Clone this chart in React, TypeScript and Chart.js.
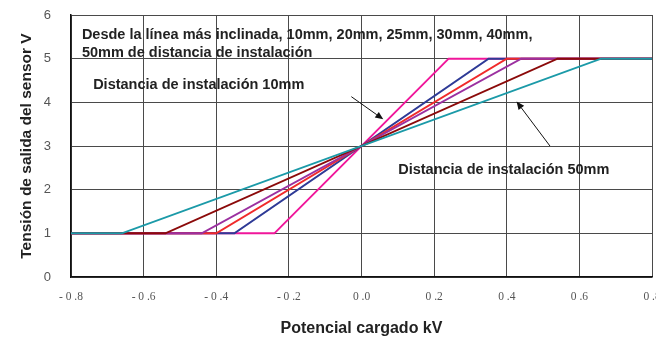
import { useEffect, useRef } from 'react';
import { Chart, registerables } from 'chart.js';

Chart.register(...registerables);

// ---- data ----
const seriesLabels = ['10mm', '20mm', '25mm', '30mm', '40mm', '50mm'];
const lowKnee = [-0.24, -0.35, -0.40, -0.44, -0.54, -0.66]; // kV where output leaves 1 V
const highKnee = [0.24, 0.35, 0.40, 0.44, 0.54, 0.66]; // kV where output reaches 5 V
const xRange = [-0.8, 0.8];
const vLow = 1;
const vHigh = 5;
const xTickLabels = ['- 0 .8', '- 0 .6', '- 0 .4', '- 0 .2', '0 .0', '0 .2', '0 .4', '0 .6', '0 .8'];
const yTickLabels = ['0', '1', '2', '3', '4', '5', '6'];

const noteTexts = [
  'Desde la línea más inclinada, 10mm, 20mm, 25mm, 30mm, 40mm,',
  '50mm de distancia de instalación',
  'Distancia de instalación 10mm',
  'Distancia de instalación 50mm',
];
const noteX = [-0.77, -0.77, -0.739, 0.101];
const noteY = [5.54, 5.13, 4.40, 2.45];

const arrowFromX = [-0.028, 0.519];
const arrowFromY = [4.13, 3.0];
const arrowToX = [0.06, 0.427];
const arrowToY = [3.61, 4.02];

// ---- styles ----
const seriesColors = ['#F0169A', '#2E3A96', '#F02A2A', '#9B30A0', '#8B0A0A', '#1B9AA8'];

const notesPlugin = {
  id: 'notes',
  afterDatasetsDraw(chart: any) {
    const { ctx, scales } = chart;
    const x = scales.x;
    const y = scales.y;
    ctx.save();
    ctx.font = 'bold 14.5px "Liberation Sans", Arial, sans-serif';
    ctx.fillStyle = '#222';
    ctx.textBaseline = 'middle';
    ctx.textAlign = 'left';
    noteTexts.forEach((t, i) => {
      ctx.fillText(t, x.getPixelForValue(noteX[i]), y.getPixelForValue(noteY[i]));
    });
    ctx.strokeStyle = '#111';
    ctx.fillStyle = '#111';
    ctx.lineWidth = 1;
    arrowFromX.forEach((_, i) => {
      const x1 = x.getPixelForValue(arrowFromX[i]);
      const y1 = y.getPixelForValue(arrowFromY[i]);
      const x2 = x.getPixelForValue(arrowToX[i]);
      const y2 = y.getPixelForValue(arrowToY[i]);
      const ang = Math.atan2(y2 - y1, x2 - x1);
      const hl = 8;
      const hw = 3.5;
      const bx = x2 - hl * Math.cos(ang);
      const by = y2 - hl * Math.sin(ang);
      ctx.beginPath();
      ctx.moveTo(x1, y1);
      ctx.lineTo(bx, by);
      ctx.stroke();
      ctx.beginPath();
      ctx.moveTo(x2, y2);
      ctx.lineTo(bx + hw * Math.sin(ang), by - hw * Math.cos(ang));
      ctx.lineTo(bx - hw * Math.sin(ang), by + hw * Math.cos(ang));
      ctx.closePath();
      ctx.fill();
    });
    ctx.restore();
  },
};

export default function App() {
  const ref = useRef<HTMLCanvasElement | null>(null);

  useEffect(() => {
    document.body.style.margin = '0';
    const canvas = ref.current;
    if (!canvas) return;
    const datasets = seriesLabels.map((label, i) => ({
      label,
      data: [
        { x: xRange[0], y: vLow },
        { x: lowKnee[i], y: vLow },
        { x: highKnee[i], y: vHigh },
        { x: xRange[1], y: vHigh },
      ],
      borderColor: seriesColors[i],
      backgroundColor: seriesColors[i],
      borderWidth: 2,
      pointRadius: 0,
      tension: 0,
      fill: false,
      order: seriesLabels.length - i,
    }));

    const chart = new Chart(canvas, {
      type: 'line',
      data: { datasets },
      plugins: [notesPlugin],
      options: {
        responsive: false,
        animation: false,
        events: [],
        layout: { padding: { top: 15, right: 4, bottom: 0, left: 0 } },
        plugins: { legend: { display: false }, tooltip: { enabled: false } },
        scales: {
          x: {
            type: 'linear',
            min: xRange[0],
            max: xRange[1],
            afterFit: (s: any) => {
              s.height = 61;
              s.paddingLeft = 0;
              s.paddingRight = 0;
            },
            ticks: {
              stepSize: 0.2,
              autoSkip: false,
              maxRotation: 0,
              padding: 13,
              color: '#555',
              font: { family: '"Liberation Serif", serif', size: 11.5 },
              callback: (v: any) => xTickLabels[Math.round((Number(v) - xRange[0]) / 0.2)] ?? '',
            },
            grid: { color: '#4a4a4a', lineWidth: 1, drawTicks: false },
            border: { color: '#111', width: 1.5 },
            title: {
              display: true,
              text: 'Potencial cargado kV',
              color: '#222',
              font: { family: '"Liberation Sans", Arial, sans-serif', size: 16, weight: 'bold' },
              padding: { top: 0, bottom: 0 },
            },
          },
          y: {
            type: 'linear',
            min: 0,
            max: 6,
            afterFit: (s: any) => {
              s.width = 71;
              s.paddingTop = 0;
              s.paddingBottom = 0;
            },
            ticks: {
              stepSize: 1,
              padding: 20,
              color: '#555',
              font: { family: '"Liberation Sans", Arial, sans-serif', size: 13 },
              callback: (v: any) => yTickLabels[Math.round(Number(v))] ?? '',
            },
            grid: { color: '#4a4a4a', lineWidth: 1, drawTicks: false },
            border: { color: '#111', width: 1.5 },
            title: {
              display: true,
              text: 'Tensión de salida del sensor V',
              color: '#222',
              font: { family: '"Liberation Sans", Arial, sans-serif', size: 15.5, weight: 'bold' },
              padding: { top: 17, bottom: 0 },
            },
          },
        },
      },
    } as any);
    return () => chart.destroy();
  }, []);

  return (
    <div style={{ position: 'fixed', left: 0, top: 0, width: 656, height: 338, background: '#fff' }}>
      <canvas ref={ref} width={656} height={338} style={{ display: 'block', width: 656, height: 338 }} />
    </div>
  );
}
